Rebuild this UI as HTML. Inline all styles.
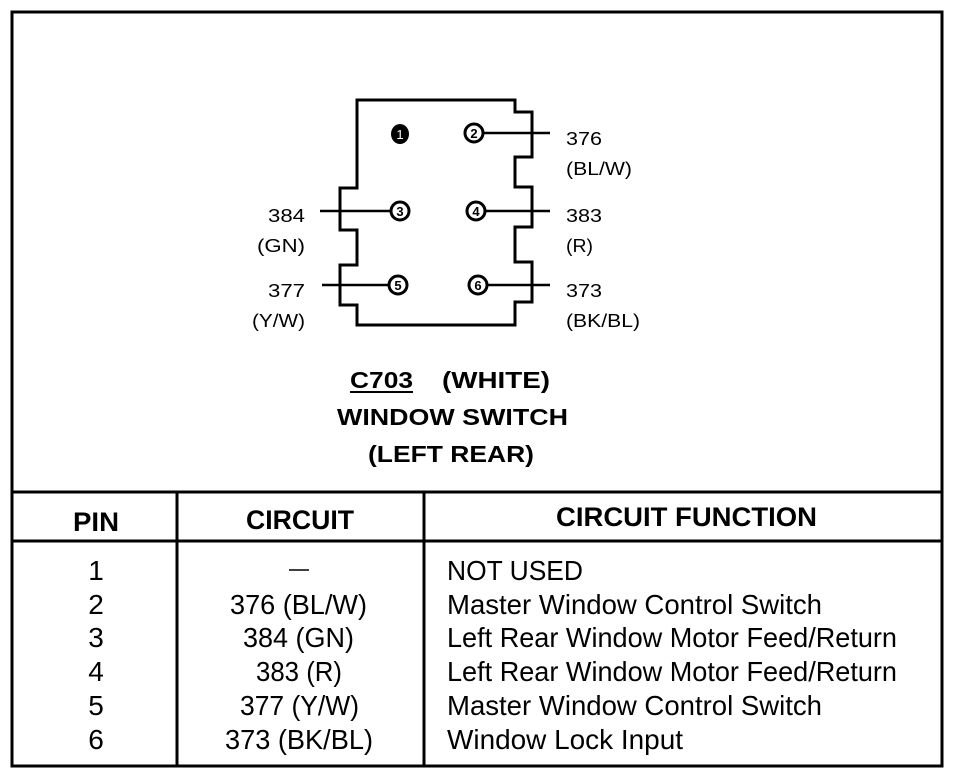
<!DOCTYPE html>
<html><head><meta charset="utf-8"><style>
html,body{margin:0;padding:0;background:#fff;}
svg{display:block;}
text{font-family:"Liberation Sans",Arial,sans-serif;fill:#000;}
</style></head><body>
<svg width="960" height="772" viewBox="0 0 960 772" xmlns="http://www.w3.org/2000/svg">
<rect x="12" y="12" width="930" height="754" fill="none" stroke="#000" stroke-width="3"/>
<line x1="12" y1="492" x2="942" y2="492" stroke="#000" stroke-width="3"/>
<line x1="12" y1="541" x2="942" y2="541" stroke="#000" stroke-width="3"/>
<line x1="177" y1="492" x2="177" y2="766" stroke="#000" stroke-width="3"/>
<line x1="424" y1="492" x2="424" y2="766" stroke="#000" stroke-width="3"/>

<path d="M357,100 L515,100 L515,112 L532,112 L532,157 L515,157 L515,187 L532,187 L532,227 L515,227 L515,262 L532,262 L532,302 L515,302 L515,325 L357,325 L357,305 L340,305 L340,265 L357,265 L357,230 L340,230 L340,188 L357,188 Z" fill="none" stroke="#000" stroke-width="3"/>
<g stroke="#000" stroke-width="2.5">
<line x1="482" y1="133" x2="550" y2="133"/>
<line x1="320" y1="211" x2="392" y2="211"/>
<line x1="484" y1="211" x2="550" y2="211"/>
<line x1="322" y1="285" x2="390" y2="285"/>
<line x1="486" y1="285" x2="550" y2="285"/>
</g>
<ellipse cx="400" cy="134" rx="9" ry="10" fill="#000"/>
<text x="400" y="139" font-size="13" text-anchor="middle" style="fill:#fff">1</text>
<g fill="#fff" stroke="#000" stroke-width="3">
<circle cx="474" cy="133" r="9"/>
<circle cx="400" cy="211" r="9"/>
<circle cx="476" cy="211" r="9"/>
<circle cx="398" cy="285" r="9"/>
<circle cx="478" cy="285" r="9"/>
</g>
<g font-size="13" text-anchor="middle" font-weight="bold">
<text x="474" y="138">2</text>
<text x="400" y="216">3</text>
<text x="476" y="216">4</text>
<text x="398" y="290">5</text>
<text x="478" y="290">6</text>
</g>
<g font-size="18">
<text x="566" y="145" textLength="36" lengthAdjust="spacingAndGlyphs">376</text>
<text x="566" y="175" textLength="66" lengthAdjust="spacingAndGlyphs">(BL/W)</text>
<text x="566" y="222" textLength="36" lengthAdjust="spacingAndGlyphs">383</text>
<text x="566" y="252" textLength="27" lengthAdjust="spacingAndGlyphs">(R)</text>
<text x="566" y="297" textLength="36" lengthAdjust="spacingAndGlyphs">373</text>
<text x="566" y="327" textLength="74" lengthAdjust="spacingAndGlyphs">(BK/BL)</text>
</g>
<g font-size="18">
<text x="268" y="222" textLength="37" lengthAdjust="spacingAndGlyphs">384</text>
<text x="257" y="252" textLength="48" lengthAdjust="spacingAndGlyphs">(GN)</text>
<text x="268" y="297" textLength="37" lengthAdjust="spacingAndGlyphs">377</text>
<text x="252" y="327" textLength="53" lengthAdjust="spacingAndGlyphs">(Y/W)</text>
</g>
<g font-size="23" font-weight="bold">
<text x="350" y="388" textLength="63" lengthAdjust="spacingAndGlyphs">C703</text>
<line x1="350" y1="392" x2="413" y2="392" stroke="#000" stroke-width="2"/>
<text x="442" y="388" textLength="108" lengthAdjust="spacingAndGlyphs">(WHITE)</text>
<text x="337" y="425" textLength="231" lengthAdjust="spacingAndGlyphs">WINDOW SWITCH</text>
<text x="368" y="462" textLength="166" lengthAdjust="spacingAndGlyphs">(LEFT REAR)</text>
</g>

<g font-size="27" font-weight="bold">
<text x="73" y="531" textLength="46" lengthAdjust="spacingAndGlyphs">PIN</text>
<text x="246" y="529" textLength="108" lengthAdjust="spacingAndGlyphs">CIRCUIT</text>
<text x="556" y="526" textLength="261" lengthAdjust="spacingAndGlyphs">CIRCUIT FUNCTION</text>
</g>
<g font-size="28">
<text x="96" y="580" text-anchor="middle">1</text>
<text x="96" y="614" text-anchor="middle">2</text>
<text x="96" y="647" text-anchor="middle">3</text>
<text x="96" y="681" text-anchor="middle">4</text>
<text x="96" y="715" text-anchor="middle">5</text>
<text x="96" y="749" text-anchor="middle">6</text>

<line x1="289" y1="570" x2="309" y2="570" stroke="#000" stroke-width="1.5"/>
<text x="230" y="614" textLength="137" lengthAdjust="spacingAndGlyphs">376 (BL/W)</text>
<text x="243" y="647" textLength="111" lengthAdjust="spacingAndGlyphs">384 (GN)</text>
<text x="256" y="681" textLength="86" lengthAdjust="spacingAndGlyphs">383 (R)</text>
<text x="240" y="715" textLength="119" lengthAdjust="spacingAndGlyphs">377 (Y/W)</text>
<text x="225" y="749" textLength="148" lengthAdjust="spacingAndGlyphs">373 (BK/BL)</text>

<text x="447" y="580" textLength="136" lengthAdjust="spacingAndGlyphs">NOT USED</text>
<text x="447" y="614" textLength="375" lengthAdjust="spacingAndGlyphs">Master Window Control Switch</text>
<text x="447" y="647" textLength="450" lengthAdjust="spacingAndGlyphs">Left Rear Window Motor Feed/Return</text>
<text x="447" y="681" textLength="450" lengthAdjust="spacingAndGlyphs">Left Rear Window Motor Feed/Return</text>
<text x="447" y="715" textLength="375" lengthAdjust="spacingAndGlyphs">Master Window Control Switch</text>
<text x="447" y="749" textLength="236" lengthAdjust="spacingAndGlyphs">Window Lock Input</text>
</g>
</svg>
</body></html>
